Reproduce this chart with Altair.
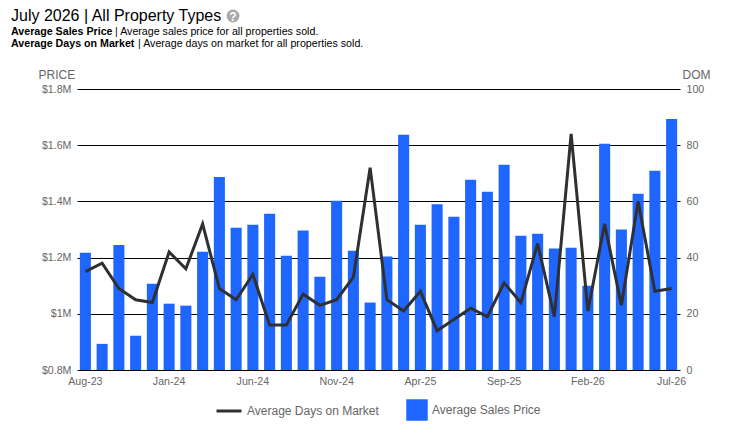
import altair as alt
import pandas as pd

months = ["Aug-23","Sep-23","Oct-23","Nov-23","Dec-23","Jan-24","Feb-24","Mar-24","Apr-24","May-24","Jun-24","Jul-24",
          "Aug-24","Sep-24","Oct-24","Nov-24","Dec-24","Jan-25","Feb-25","Mar-25","Apr-25","May-25","Jun-25","Jul-25",
          "Aug-25","Sep-25","Oct-25","Nov-25","Dec-25","Jan-26","Feb-26","Mar-26","Apr-26","May-26","Jun-26","Jul-26"]
price = [1217000,893000,1245000,922000,1107000,1036000,1029000,1221000,1487000,1306000,1317000,1356000,
         1207000,1296000,1132000,1402000,1224000,1040000,1204000,1637000,1317000,1390000,1345000,1477000,
         1434000,1530000,1278000,1285000,1232000,1235000,1100000,1605000,1300000,1427000,1509000,1693000]
dom = [35,38,29,25,24,42,36,52,29,25,34,16,16,27,23,25,33,72,25,21,28,14,18,22,19,31,24,45,19,84,21,52,23,60,28,29]
x_labels = ["Aug-23","Jan-24","Jun-24","Nov-24","Apr-25","Sep-25","Feb-26","Jul-26"]
price_ticks = [800000,1000000,1200000,1400000,1600000,1800000]
dom_ticks = [0,20,40,60,80,100]

FONT = "Liberation Sans"
GRAY = "#666666"
BLUE = "#1f66ff"
DARK = "#2e3033"
W, H = 603, 281
PL, PT = 69, 81

df = pd.DataFrame({"month": months, "price": price, "dom": dom})
x = alt.X("month:N", sort=months, title=None,
          scale=alt.Scale(paddingInner=0.34, paddingOuter=0.17),
          axis=alt.Axis(values=x_labels, labelAngle=0, tickSize=0, domain=False, labelColor=GRAY,
                        labelFontSize=10.67, labelFont=FONT, labelPadding=6, grid=False))

bars = alt.Chart(df).mark_bar(color=BLUE).encode(
    x=x,
    y=alt.Y("price:Q", stack=None, scale=alt.Scale(domain=[800000,1800000], zero=False, nice=False),
            axis=alt.Axis(orient="left", values=price_ticks, title="PRICE", titleAngle=0, titleFont=FONT,
                          titleFontSize=12, titleFontWeight="normal", titleColor=GRAY, titleAlign="left",
                          titleBaseline="middle", titleX=-39, titleY=-15, labelColor=GRAY, labelFont=FONT,
                          labelFontSize=10.67, labelPadding=6, tickSize=0, domain=False, grid=True,
                          gridColor="#000000", gridWidth=1.2, gridOpacity=1,
                          labelExpr="'$' + datum.value / 1000000 + 'M'")),
    y2=alt.Y2(datum=800000),
    fill=alt.Fill("s:N", scale=alt.Scale(domain=["Average Sales Price"], range=[BLUE]),
                  legend=alt.Legend(title=None, orient="none", legendX=PL+260, legendY=PT+229, symbolType="square",
                                    symbolSize=460, symbolStrokeWidth=0, symbolOpacity=1, labelFont=FONT, labelFontSize=12,
                                    labelColor=GRAY, labelOffset=4)),
).transform_calculate(s="'Average Sales Price'")

line = alt.Chart(df).mark_line(strokeWidth=3, color=DARK).encode(
    x=x,
    y=alt.Y("dom:Q", scale=alt.Scale(domain=[0,100], nice=False),
            axis=alt.Axis(orient="right", values=dom_ticks, title="DOM", titleAngle=0, titleFont=FONT,
                          titleFontSize=12, titleFontWeight="normal", titleColor=GRAY, titleAlign="left",
                          titleBaseline="middle", titleX=2, titleY=-15, labelColor=GRAY, labelFont=FONT,
                          labelFontSize=10.67, labelPadding=6, tickSize=0, domain=False, grid=False)),
    stroke=alt.Stroke("s:N", scale=alt.Scale(domain=["Average Days on Market"], range=[DARK]),
                      legend=alt.Legend(title=None, orient="none", legendX=PL+69, legendY=PT+227, symbolType="stroke",
                                        symbolSize=625, symbolStrokeWidth=3, labelFont=FONT, labelFontSize=12,
                                        labelColor=GRAY, labelOffset=4)),
).transform_calculate(s="'Average Days on Market'")

one = pd.DataFrame({"a": [0]})
def label(text, px, py, size=10.67, weight="normal", color="#000000", align="left", baseline="middle"):
    return alt.Chart(one).mark_text(text=text, font=FONT, fontSize=size, fontWeight=weight, color=color,
                                    align=align, baseline=baseline).encode(
        x=alt.value(px - 77), y=alt.value(py - 89))

icon = alt.Chart(one).mark_point(filled=True, color="#a9a9a9", size=165, opacity=1, shape="circle").encode(
    x=alt.value(233 - 77), y=alt.value(16 - 89))

chart = alt.layer(
    bars, line,
    label("July 2026 | All Property Types", 11, 21, size=16, baseline="alphabetic"),
    icon,
    label("?", 233, 16.5, size=12, weight="bold", color="#ffffff", align="center"),
    label("Average Sales Price", 11, 32, weight="bold"),
    label("| Average sales price for all properties sold.", 115, 32),
    label("Average Days on Market", 11, 44, weight="bold"),
    label("| Average days on market for all properties sold.", 138, 44),
).resolve_scale(y="independent", fill="independent", stroke="independent").properties(
    width=W, height=H,
    autosize=alt.AutoSizeParams(type="none"),
    padding={"left": PL, "top": PT, "right": 46, "bottom": 60},
).configure_view(stroke=None)

chart.save("out.html", embed_options={"renderer": "svg", "actions": False})
